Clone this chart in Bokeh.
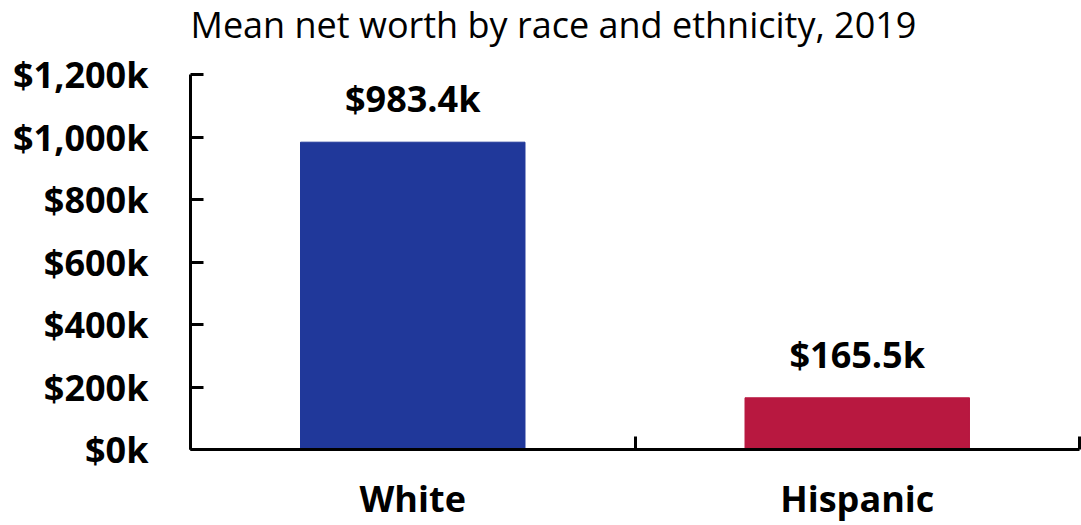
from bokeh.plotting import figure
from bokeh.models import ColumnDataSource, FixedTicker, LabelSet, Label, Range1d
from bokeh.core.properties import value
from bokeh.embed import file_html
from bokeh.resources import INLINE

categories = ["White", "Hispanic"]
values_k = [983.4, 165.5]
bar_labels = ["$983.4k", "$165.5k"]
colors = ["#20389A", "#B81840"]
y_ticks = [0, 200, 400, 600, 800, 1000, 1200]
y_tick_labels = ["$0k", "$200k", "$400k", "$600k", "$800k", "$1,000k", "$1,200k"]
title_text = "Mean net worth by race and ethnicity, 2019"

FONT = "Open Sans"
BOLD_SIZE = "36px"

# layout constants (pixels)
AXIS_X = 190           # y axis / frame left
RIGHT = 1079
FRAME_H = 449          # canvas top to x axis
AXIS_H = 375           # $0k to top tick
n = len(categories)
y_end = y_ticks[-1] * FRAME_H / AXIS_H

xs = [i + 0.5 for i in range(n)]
src = ColumnDataSource(dict(x=xs, top=values_k, label=bar_labels, color=colors))

p = figure(width=1081, height=525, output_backend="svg", toolbar_location=None,
           x_range=Range1d(0, n), y_range=Range1d(0, y_end),
           min_border_left=AXIS_X, min_border_right=1081 - RIGHT, min_border_top=0,
           min_border_bottom=525 - FRAME_H)
p.title = None
p.outline_line_color = None
p.xgrid.visible = False
p.ygrid.visible = False
p.background_fill_color = "white"
p.border_fill_color = "white"

p.vbar(x="x", top="top", width=0.505, bottom=0, color="color", source=src)

p.add_layout(LabelSet(x="x", y="top", text="label", source=src, y_offset=30,
                      text_align="center", text_baseline="alphabetic",
                      text_font=value(FONT), text_font_style="bold",
                      text_font_size=BOLD_SIZE, text_color="black"))

# y axis
ya = p.yaxis[0]
ya.bounds = (y_ticks[0], y_ticks[-1])
ya.ticker = FixedTicker(ticks=y_ticks)
ya.major_label_overrides = {t: l for t, l in zip(y_ticks, y_tick_labels)}
ya.major_label_text_font = FONT
ya.major_label_text_font_style = "bold"
ya.major_label_text_font_size = BOLD_SIZE
ya.major_label_text_color = "black"
ya.major_label_standoff = 42
ya.axis_line_width = 3
ya.axis_line_color = "black"
ya.major_tick_line_width = 3
ya.major_tick_line_color = "black"
ya.major_tick_in = 13
ya.major_tick_out = 0
ya.minor_tick_line_color = None

# x axis
xa = p.xaxis[0]
xa.ticker = FixedTicker(ticks=xs, minor_ticks=list(range(n + 1)))
xa.major_label_overrides = {x: c for x, c in zip(xs, categories)}
xa.major_label_text_font = FONT
xa.major_label_text_font_style = "bold"
xa.major_label_text_font_size = BOLD_SIZE
xa.major_label_text_color = "black"
xa.major_label_standoff = 24
xa.axis_line_width = 3
xa.axis_line_color = "black"
xa.major_tick_line_color = None
xa.major_tick_in = 0
xa.major_tick_out = 0
xa.minor_tick_line_color = "black"
xa.minor_tick_line_width = 3
xa.minor_tick_in = 13
xa.minor_tick_out = 0

p.add_layout(Label(x=0, y=y_ticks[-1], x_offset=0, y_offset=50, text=title_text,
                   text_align="left", text_baseline="alphabetic",
                   text_font=FONT, text_font_size="36px", text_color="black"))

open("out.html", "w").write(file_html(p, INLINE))
